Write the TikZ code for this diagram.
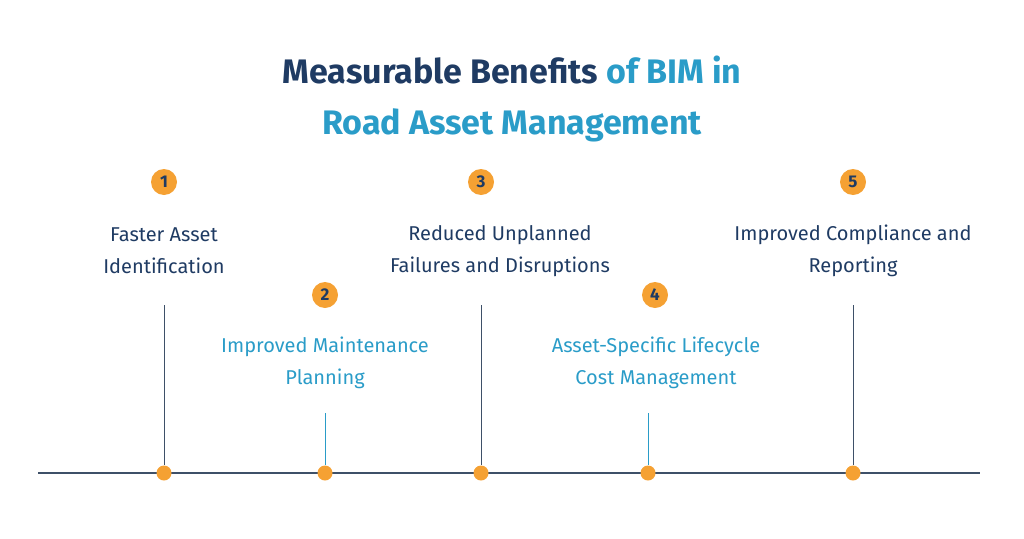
\documentclass[tikz,border=0pt]{standalone}
\usepackage{fontspec}
\setmainfont{Fira Sans}
\usepackage{tikz}
\usetikzlibrary{positioning}
\definecolor{navy}{HTML}{1F3B63}
\definecolor{teal}{HTML}{2A9CC8}
\definecolor{amber}{HTML}{F5A133}
\definecolor{axis}{HTML}{3E5068}

\begin{document}
\begin{tikzpicture}[
    x=1pt, y=-1pt,
    badge/.style={circle, fill=amber, inner sep=0pt, minimum size=26pt, text=navy, font=\fontsize{17}{17}\selectfont\bfseries},
    dot/.style={circle, fill=amber, inner sep=0pt, minimum size=15pt},
    label/.style={align=center, text=navy, font=\fontsize{20}{32}\selectfont},
    tlabel/.style={label, text=teal},
    stem/.style={draw=axis, line width=0.8pt},
    tstem/.style={draw=teal, line width=0.6pt}
]
\useasboundingbox (0,0) rectangle (1024,538);

% Title
\node[font=\fontsize{34}{51}\selectfont\bfseries, align=center] (title) at (512,99)
    {\textcolor{navy}{Measurable Benefits} \textcolor{teal}{of BIM in}\\\textcolor{teal}{Road Asset Management}};

% Timeline
\coordinate (left) at (38,473);
\coordinate (right) at (980,473);
\draw[axis, line width=1.2pt] (left) -- (right);

% Badges
\node[badge] (b1) at (164,182) {1};
\node[badge] (b2) at (325,295) {2};
\node[badge] (b3) at (481,182) {3};
\node[badge] (b4) at (655,295) {4};
\node[badge] (b5) at (853,182) {5};

% Labels
\node[label] (l1) at (164,251) {Faster Asset\\Identification};
\node[tlabel] (l2) at (325,363) {Improved Maintenance\\Planning};
\node[label] (l3) at (500,251) {Reduced Unplanned\\Failures and Disruptions};
\node[tlabel] (l4) at (656,363) {Asset-Specific Lifecycle\\Cost Management};
\node[label] (l5) at (853,251) {Improved Compliance and\\Reporting};

% Stems
\coordinate (s1) at (164,305);
\coordinate (s2) at (325,413);
\coordinate (s3) at (481,305);
\coordinate (s4) at (648,413);
\coordinate (s5) at (853,305);
\node[dot] (d1) at (164,473) {};
\node[dot] (d2) at (325,473) {};
\node[dot] (d3) at (481,473) {};
\node[dot] (d4) at (648,473) {};
\node[dot] (d5) at (853,473) {};
\draw[stem] (s1) -- (d1);
\draw[tstem] (s2) -- (d2);
\draw[stem] (s3) -- (d3);
\draw[tstem] (s4) -- (d4);
\draw[stem] (s5) -- (d5);
\end{tikzpicture}
\end{document}
